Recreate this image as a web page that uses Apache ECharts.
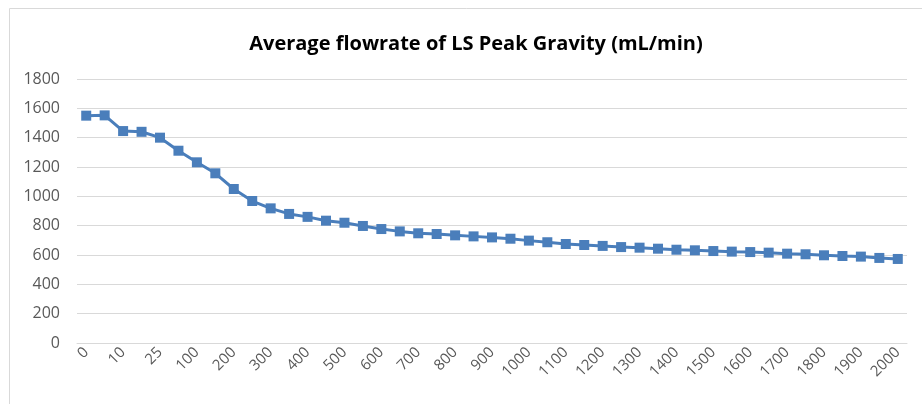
<!DOCTYPE html>
<html>
<head>
<meta charset="utf-8">
<script src="https://cdn.jsdelivr.net/npm/echarts@6/dist/echarts.min.js"></script>
<style>
  html, body { margin: 0; padding: 0; background: #fff; }
  #chart { width: 922px; height: 404px; }
</style>
</head>
<body>
<div id="chart"></div>
<script>
const CATEGORIES = [
  '0', '5', '10', '15', '25', '50', '100', '150', '200', '250',
  '300', '350', '400', '450', '500', '550', '600', '650', '700', '750',
  '800', '850', '900', '950', '1000', '1050', '1100', '1150', '1200', '1250',
  '1300', '1350', '1400', '1450', '1500', '1550', '1600', '1650', '1700', '1750',
  '1800', '1850', '1900', '1950', '2000'
];

const FLOWRATE = [
  1550, 1552, 1445, 1440, 1400, 1311, 1232, 1157, 1050, 968,
  918, 880, 860, 834, 820, 798, 777, 761, 748, 743,
  734, 727, 720, 711, 698, 687, 675, 668, 662, 654,
  650, 643, 636, 632, 627, 623, 620, 616, 609, 605,
  598, 593, 589, 580, 573
];

const chart = echarts.init(document.getElementById('chart'));

chart.setOption({
  animation: false,
  graphic: [{
    type: 'rect',
    shape: { x: 9.5, y: 8.5, width: 1000, height: 500 },
    style: { fill: 'none', stroke: '#d9d9d9', lineWidth: 1 }
  }],
  title: {
    text: 'Average flowrate of LS Peak Gravity (mL/min)',
    left: 471,
    top: 29,
    textAlign: 'center',
    textStyle: { fontFamily: 'Open Sans', fontSize: 20, fontWeight: 'bold', color: '#000' }
  },
  grid: { left: 77, right: 15, top: 79, bottom: 61 },
  xAxis: {
    type: 'category',
    data: CATEGORIES,
    boundaryGap: true,
    axisLine: { lineStyle: { color: '#d9d9d9' } },
    axisTick: { show: false },
    axisLabel: {
      interval: 1,
      rotate: 45,
      color: '#595959',
      fontFamily: 'Open Sans',
      fontSize: 15,
      margin: 7
    }
  },
  yAxis: {
    type: 'value',
    min: 0,
    max: 1800,
    interval: 200,
    axisLine: { show: false },
    axisTick: { show: false },
    splitLine: { lineStyle: { color: '#d9d9d9' } },
    axisLabel: {
      color: '#595959',
      fontFamily: 'Open Sans',
      fontSize: 16,
      margin: 17,
      formatter: (v) => String(v)
    }
  },
  series: [{
    name: 'Flowrate',
    type: 'line',
    data: FLOWRATE,
    symbol: 'rect',
    symbolSize: 10,
    itemStyle: { color: '#4a7ebb' },
    lineStyle: { color: '#4a7ebb', width: 3 }
  }]
});
</script>
</body>
</html>
